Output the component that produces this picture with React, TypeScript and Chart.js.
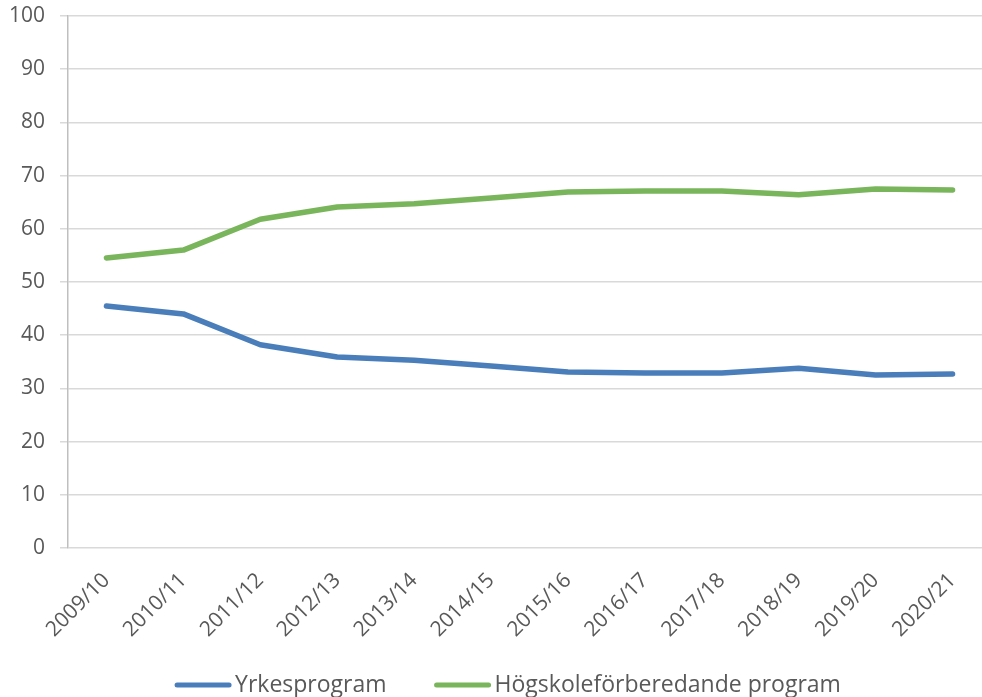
import React, { useEffect, useRef } from "react";
import { Chart, registerables } from "chart.js";

Chart.register(...registerables);

const categories = [
  "2009/10", "2010/11", "2011/12", "2012/13", "2013/14", "2014/15",
  "2015/16", "2016/17", "2017/18", "2018/19", "2019/20", "2020/21",
];
const yrkesprogram = [45.5, 44.0, 38.2, 35.9, 35.3, 34.2, 33.1, 32.9, 32.9, 33.8, 32.5, 32.7];
const hogskoleforberedande = [54.5, 56.0, 61.8, 64.1, 64.7, 65.8, 66.9, 67.1, 67.1, 66.4, 67.5, 67.3];
const seriesLabels = ["Yrkesprogram", "Högskoleförberedande program"];
const yTicks = { min: 0, max: 100, step: 10 };

const FONT = "'Open Sans', 'Noto Sans', sans-serif";
const TEXT = "#595959";
const BLUE = "#4A7EBB";
const GREEN = "#79B55B";

const legendPlugin = {
  id: "customLegend",
  afterDraw(chart: any) {
    const ctx = chart.ctx as CanvasRenderingContext2D;
    const y = 685;
    const markerW = 56;
    const gapText = 4;
    const gapItems = 48;
    ctx.save();
    ctx.font = `23px ${FONT}`;
    const items = chart.data.datasets.map((ds: any) => ({
      label: ds.label as string,
      color: ds.borderColor as string,
      w: markerW + gapText + ctx.measureText(ds.label).width,
    }));
    const total = items.reduce((s: number, it: any) => s + it.w, 0) + gapItems * (items.length - 1);
    let x = 508 - total / 2;
    for (const it of items) {
      ctx.beginPath();
      ctx.strokeStyle = it.color;
      ctx.lineWidth = 5;
      ctx.lineCap = "round";
      ctx.moveTo(x + 2, y);
      ctx.lineTo(x + markerW - 2, y);
      ctx.stroke();
      ctx.fillStyle = TEXT;
      ctx.textAlign = "left";
      ctx.textBaseline = "middle";
      ctx.fillText(it.label, x + markerW + gapText, y);
      x += it.w + gapItems;
    }
    ctx.restore();
  },
};

export default function App() {
  const ref = useRef<HTMLCanvasElement | null>(null);
  useEffect(() => {
    if (!ref.current) return;
    const chart = new Chart(ref.current, {
      type: "line",
      data: {
        labels: categories,
        datasets: [
          {
            label: seriesLabels[0],
            data: yrkesprogram,
            borderColor: BLUE,
            backgroundColor: BLUE,
            borderWidth: 5.5,
            pointRadius: 0,
            tension: 0,
            borderCapStyle: "round",
            borderJoinStyle: "round",
          },
          {
            label: seriesLabels[1],
            data: hogskoleforberedande,
            borderColor: GREEN,
            backgroundColor: GREEN,
            borderWidth: 5.5,
            pointRadius: 0,
            tension: 0,
            borderCapStyle: "round",
            borderJoinStyle: "round",
          },
        ],
      },
      options: {
        responsive: false,
        animation: false,
        layout: { padding: { top: 16, right: 4, bottom: 49, left: 0 } },
        plugins: {
          legend: { display: false },
          tooltip: { enabled: false },
        },
        scales: {
          x: {
            offset: true,
            grid: { display: false },
            border: { display: false },
            ticks: {
              autoSkip: false,
              minRotation: 45,
              maxRotation: 45,
              color: TEXT,
              font: { family: FONT, size: 21 },
              padding: 12,
            },
            afterFit: (s: any) => {
              s.height = 100;
            },
          },
          y: {
            min: yTicks.min,
            max: yTicks.max,
            ticks: {
              stepSize: yTicks.step,
              color: TEXT,
              font: { family: FONT, size: 21 },
              padding: 15,
            },
            grid: {
              color: "#D9D9D9",
              lineWidth: 1.5,
              tickLength: 8,
              drawTicks: true,
            },
            border: { display: true, color: "#BFBFBF", width: 1.5 },
            afterFit: (s: any) => {
              s.width = 68;
              s.paddingTop = 10;
              s.paddingBottom = 10;
            },
          },
        },
      },
      plugins: [legendPlugin],
    });
    return () => chart.destroy();
  }, []);

  return (
    <div
      style={{
        position: "fixed",
        left: 0,
        top: 0,
        width: 982,
        height: 697,
        overflow: "hidden",
        background: "#fff",
      }}
    >
      <canvas ref={ref} width={995} height={697} style={{ width: 995, height: 697, display: "block" }} />
    </div>
  );
}
